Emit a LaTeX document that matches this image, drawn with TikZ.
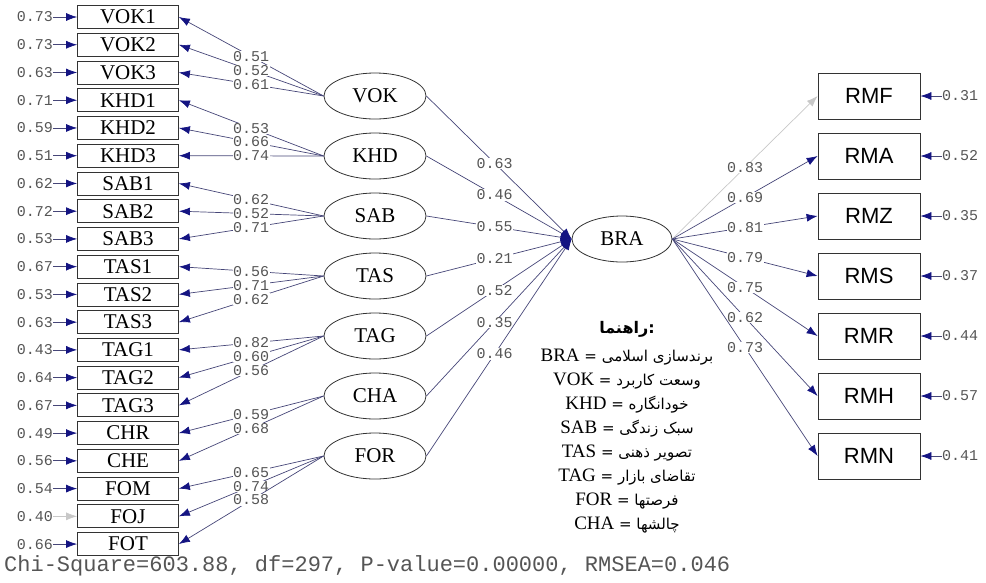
\documentclass[tikz,border=0pt]{standalone}
\usepackage{fontspec}
\setmainfont{Liberation Serif}
\newfontfamily\monofont{Liberation Mono}
\newfontfamily\arialfont{Liberation Sans}
\newfontfamily\arabicfont[Script=Arabic]{DejaVu Sans}
\TeXXeTstate=1
\usetikzlibrary{shapes.geometric,arrows.meta}

\definecolor{linecol}{RGB}{70,70,120}
\definecolor{tipcol}{RGB}{20,20,130}
\definecolor{numcol}{RGB}{85,85,85}
\definecolor{fadecol}{RGB}{200,200,200}

\tikzset{
  indbox/.style={draw=black!80, line width=0.8pt, minimum width=101pt, minimum height=23pt, inner sep=0pt, font=\fontsize{21}{21}\selectfont},
  latent/.style={ellipse, draw=black!80, line width=0.8pt, minimum width=102pt, minimum height=46pt, inner sep=0pt, font=\fontsize{21}{21}\selectfont},
  rmbox/.style={draw=black!80, line width=0.8pt, minimum width=102pt, minimum height=46pt, inner sep=0pt, font=\arialfont\fontsize{22}{22}\selectfont},
  coef/.style={font=\monofont\fontsize{15}{15}\selectfont, text=numcol, fill=white, inner sep=0.5pt},
  errnum/.style={font=\monofont\fontsize{15}{15}\selectfont, text=numcol, inner sep=0pt},
  load/.style={draw=linecol, line width=0.7pt, -{Latex[length=11pt,width=8pt,color=tipcol]}},
  faded/.style={draw=fadecol, line width=0.7pt, -{Latex[length=11pt,width=8pt,color=fadecol]}},
  legline/.style={font=\fontsize{19}{19}\selectfont, inner sep=0pt}
}

\begin{document}
\begin{tikzpicture}[x=1pt, y=-1pt]
  \useasboundingbox (0,0) rectangle (986,582);

  % indicators on the left, with their error terms
  \foreach \name/\err/\sty [count=\i from 0] in {VOK1/0.73/load, VOK2/0.73/load, VOK3/0.63/load,
      KHD1/0.71/load, KHD2/0.59/load, KHD3/0.51/load, SAB1/0.62/load, SAB2/0.72/load, SAB3/0.53/load,
      TAS1/0.67/load, TAS2/0.53/load, TAS3/0.63/load, TAG1/0.43/load, TAG2/0.64/load, TAG3/0.67/load,
      CHR/0.49/load, CHE/0.56/load, FOM/0.54/load, FOJ/0.40/faded, FOT/0.66/load} {
    \node[indbox] (\name) at (128, {17+27.74*\i}) {\name};
    \node[errnum, anchor=east] (e\name) at (53, {17+27.74*\i}) {\err};
    \draw[\sty] (e\name) -- (\name);
  }

  % latent variables
  \foreach \name/\y in {VOK/96, KHD/156, SAB/216, TAS/276, TAG/336, CHA/396, FOR/456}
    \node[latent] (\name) at (375, \y) {\name};
  \node[latent, minimum width=100pt] (BRA) at (622, 239) {BRA};

  % loadings of the indicators
  \foreach \lat/\ind/\val in {VOK/VOK1/0.51, VOK/VOK2/0.52, VOK/VOK3/0.61,
      KHD/KHD1/0.53, KHD/KHD2/0.66, KHD/KHD3/0.74, SAB/SAB1/0.62, SAB/SAB2/0.52, SAB/SAB3/0.71,
      TAS/TAS1/0.56, TAS/TAS2/0.71, TAS/TAS3/0.62, TAG/TAG1/0.82, TAG/TAG2/0.60, TAG/TAG3/0.56,
      CHA/CHR/0.59, CHA/CHE/0.68, FOR/FOM/0.65, FOR/FOJ/0.74, FOR/FOT/0.58}
    \draw[load] (\lat.west) -- node[coef] {\val} (\ind.east);

  % paths into BRA
  \foreach \lat/\val in {VOK/0.63, KHD/0.46, SAB/0.55, TAS/0.21, TAG/0.52, CHA/0.35, FOR/0.46}
    \draw[load] (\lat.east) -- node[coef, pos=0.47] {\val} (BRA.west);

  % outcome boxes on the right
  \foreach \name/\y/\val/\err/\sty in {RMF/96/0.83/0.31/faded, RMA/156/0.69/0.52/load,
      RMZ/216/0.81/0.35/load, RMS/276/0.79/0.37/load, RMR/336/0.75/0.44/load,
      RMH/396/0.62/0.57/load, RMN/456/0.73/0.41/load} {
    \node[rmbox] (\name) at (869, \y) {\name};
    \node[errnum, anchor=west] (e\name) at (942, \y) {\err};
    \draw[load] (e\name) -- (\name);
    \draw[\sty] (BRA.east) -- node[coef] {\val} (\name.west);
  }

  % legend
  \node[font=\arabicfont\bfseries\fontsize{16}{16}\selectfont, inner sep=0pt] (legtitle) at (627, 329) {\beginR راهنما\endR:};
  \foreach \abbr/\fa [count=\i] in {BRA/برندسازی اسلامی, VOK/وسعت کاربرد, KHD/خودانگاره,
      SAB/سبک زندگی, TAS/تصویر ذهنی, TAG/تقاضای بازار, FOR/فرصتها, CHA/چالشها}
    \node[legline] (leg\abbr) at (627, {333+24*\i}) {\abbr{} {\arabicfont\fontsize{15}{15}\selectfont = \beginR\fa\endR}};

  % fit indices
  \node[font=\monofont\fontsize{22}{22}\selectfont, text=numcol, anchor=west, inner sep=0pt] (fitline) at (4, 566)
    {Chi-Square=603.88, df=297, P-value=0.00000, RMSEA=0.046};
\end{tikzpicture}
\end{document}
